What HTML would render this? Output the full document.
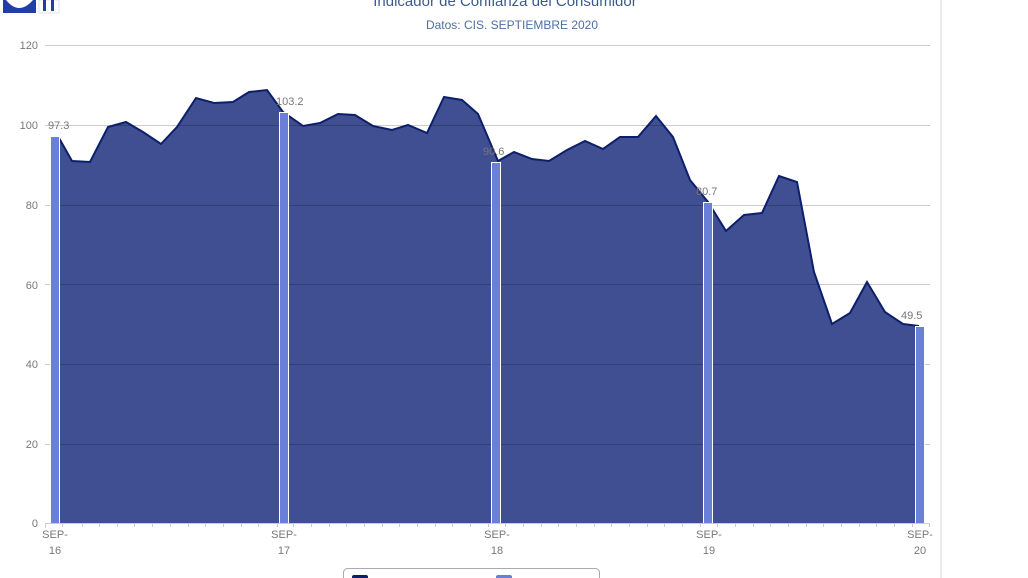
<!DOCTYPE html>
<html><head><meta charset="utf-8"><style>
html,body{margin:0;padding:0;background:#fff;}
svg{display:block;font-family:"Liberation Sans",sans-serif;}
</style></head><body>
<svg width="1028" height="578" viewBox="0 0 1028 578" xmlns="http://www.w3.org/2000/svg">
<rect width="1028" height="578" fill="#fff"/>
<!-- logo -->
<rect x="3" y="0" width="33" height="13" fill="#1f3ea8"/>
<path d="M6,0 Q19,16 33,0 Z" fill="#fff"/>
<rect x="39" y="0" width="20" height="13" fill="#fff" stroke="#e0e4f0"/>
<rect x="43" y="0" width="3" height="11" fill="#1f3ea8"/>
<rect x="51" y="0" width="3" height="11" fill="#1f3ea8"/>
<line x1="941" y1="0" x2="941" y2="578" stroke="#e6e6e6" stroke-width="1.5"/>
<text x="505" y="6" text-anchor="middle" font-size="15" fill="#3d5a8a">Indicador de Confianza del Consumidor</text>
<text x="512" y="29" text-anchor="middle" font-size="12" fill="#4f6f9f">Datos: CIS. SEPTIEMBRE 2020</text>
<!-- y labels -->
<g font-size="11" fill="#777" text-anchor="end">
<text x="38" y="49">120</text><text x="38" y="129">100</text><text x="38" y="209">80</text>
<text x="38" y="289">60</text><text x="38" y="368">40</text><text x="38" y="448">20</text><text x="38" y="527">0</text>
</g>
<!-- area -->
<path d="M59,138 L72,161 L90,162 L108,127 L126,122 L143,132 L161,144 L177,127 L196,98 L214,103 L233,102 L249,92 L267,90 L283,112 L303,126 L320,123 L338,114 L355,115 L373,126 L392,130 L408,125 L427,133 L444,97 L462,100 L478,114 L498,161 L514,152 L532,159 L549,161 L567,150 L585,141 L603,149 L620,137 L638,137 L656,116 L673,137 L690,180 L708,202 L726,231 L744,215 L762,213 L779,176 L797,182 L814,272 L832,324 L850,313 L867,282 L885,312 L903,324 L919,326 L919,523 L59,523 Z" fill="#3f4f91"/>
<!-- grid -->
<g stroke="#000" stroke-opacity="0.2" stroke-width="1">
<line x1="45" y1="45.5" x2="930" y2="45.5"/>
<line x1="45" y1="125.5" x2="930" y2="125.5"/><line x1="45" y1="205.5" x2="930" y2="205.5"/>
<line x1="45" y1="284.5" x2="930" y2="284.5"/><line x1="45" y1="364.5" x2="930" y2="364.5"/>
<line x1="45" y1="444.5" x2="930" y2="444.5"/>
</g>
<path d="M59,138 L72,161 L90,162 L108,127 L126,122 L143,132 L161,144 L177,127 L196,98 L214,103 L233,102 L249,92 L267,90 L283,112 L303,126 L320,123 L338,114 L355,115 L373,126 L392,130 L408,125 L427,133 L444,97 L462,100 L478,114 L498,161 L514,152 L532,159 L549,161 L567,150 L585,141 L603,149 L620,137 L638,137 L656,116 L673,137 L690,180 L708,202 L726,231 L744,215 L762,213 L779,176 L797,182 L814,272 L832,324 L850,313 L867,282 L885,312 L903,324 L919,326" fill="none" stroke="#0d1f6b" stroke-width="2"/>
<!-- bars -->
<g fill="#6a7fd6" stroke="#fff" stroke-width="1">
<rect x="50.5" y="136.5" width="9" height="387"/>
<rect x="279.5" y="112.5" width="9" height="411"/>
<rect x="491.5" y="162.5" width="9" height="361"/>
<rect x="703.5" y="202.5" width="9" height="321"/>
<rect x="915.5" y="326.5" width="9" height="197"/>
</g>
<g font-size="11" fill="#777">
<text x="48" y="129">97.3</text><text x="276" y="105">103.2</text>
<text x="483" y="155">90.6</text><text x="696" y="195">80.7</text><text x="901" y="319">49.5</text>
</g>
<!-- axis -->
<line x1="45" y1="523.5" x2="930" y2="523.5" stroke="#ccc"/>
<g stroke="#ccc">
<path d="M45.5,523 v5 M62.5,523 v4 M82.5,523 v4 M99.5,523 v4 M117.5,523 v4 M134.5,523 v4 M152.5,523 v4 M170.5,523 v4 M188.5,523 v4 M205.5,523 v4 M223.5,523 v4 M241.5,523 v4 M258.5,523 v4 M277.5,523 v4 M293.5,523 v4 M311.5,523 v4 M329.5,523 v4 M346.5,523 v4 M364.5,523 v4 M382.5,523 v4 M399.5,523 v4 M417.5,523 v4 M435.5,523 v4 M452.5,523 v4 M470.5,523 v4 M488.5,523 v4 M505.5,523 v4 M523.5,523 v4 M541.5,523 v4 M558.5,523 v4 M576.5,523 v4 M594.5,523 v4 M611.5,523 v4 M629.5,523 v4 M647.5,523 v4 M664.5,523 v4 M682.5,523 v4 M700.5,523 v4 M717.5,523 v4 M735.5,523 v4 M753.5,523 v4 M770.5,523 v4 M788.5,523 v4 M806.5,523 v4 M823.5,523 v4 M841.5,523 v4 M859.5,523 v4 M876.5,523 v4 M894.5,523 v4 M912.5,523 v4 M929.5,523 v4"/>
</g>
<g font-size="11" fill="#777" text-anchor="middle">
<text x="55" y="538">SEP-</text><text x="55" y="554">16</text>
<text x="284" y="538">SEP-</text><text x="284" y="554">17</text>
<text x="497" y="538">SEP-</text><text x="497" y="554">18</text>
<text x="709" y="538">SEP-</text><text x="709" y="554">19</text>
<text x="920" y="538">SEP-</text><text x="920" y="554">20</text>
</g>
<!-- legend -->
<rect x="343.5" y="568.5" width="256" height="20" rx="4" fill="#fff" stroke="#aaa"/>
<rect x="352" y="575" width="16" height="10" rx="2" fill="#0d1f6b"/>
<rect x="496" y="575" width="16" height="10" rx="2" fill="#6a7fd6"/>
</svg>
</body></html>
